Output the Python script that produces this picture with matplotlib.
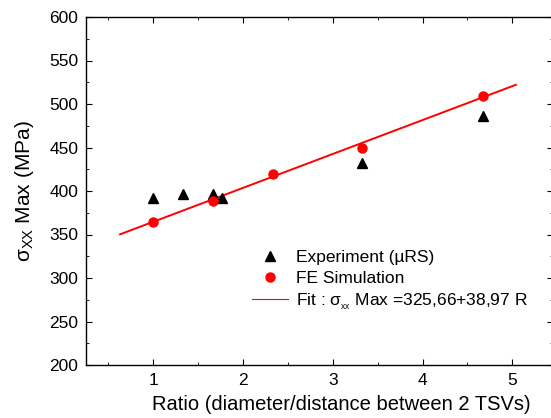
import numpy as np
import matplotlib
matplotlib.use("Agg")
import matplotlib.pyplot as plt
from matplotlib.ticker import MultipleLocator

plt.rcParams['font.family'] = ['Liberation Sans', 'DejaVu Sans']
plt.rcParams['mathtext.fontset'] = 'custom'
plt.rcParams['mathtext.rm'] = 'Liberation Sans'
plt.rcParams['mathtext.it'] = 'Liberation Sans'

# === Data ===
exp_ratio = [1.0, 1.33, 1.67, 1.76, 3.33, 4.67]
exp_stress = [392, 397, 397, 392, 432, 486]

sim_ratio = [1.0, 1.67, 2.33, 3.33, 4.67]
sim_stress = [364, 389, 419, 450, 509]

# Fit : sigma_xx Max = 325.66 + 38.97 R
fit_a = 325.66
fit_b = 38.97
fit_range = [0.63, 5.04]

# === Plot ===
W, H = 551, 418
fig = plt.figure(figsize=(W / 100, H / 100), dpi=100)
ax = fig.add_axes([86 / W, 1 - 365 / H, 467 / W, 348 / H])

fit_x = np.array(fit_range)
ax.plot(fit_x, fit_a + fit_b * fit_x, color='red', lw=1.4,
        label=r"Fit : $\sigma_{_{xx}}$ Max =325,66+38,97 R", zorder=2)
ax.plot(exp_ratio, exp_stress, linestyle='none', marker='^', color='black',
        markersize=7.5, label="Experiment (µRS)", zorder=3)
ax.plot(sim_ratio, sim_stress, linestyle='none', marker='o', color='red',
        markersize=6.5, label="FE Simulation", zorder=3)

ax.set_xlim(0.25, 0.25 + 467 / 89.75)
ax.set_ylim(200, 600)
ax.xaxis.set_major_locator(MultipleLocator(1))
ax.xaxis.set_minor_locator(MultipleLocator(0.5))
ax.yaxis.set_major_locator(MultipleLocator(50))
ax.yaxis.set_minor_locator(MultipleLocator(25))
ax.tick_params(which='both', direction='in', top=True, right=True,
               labelsize=12.5, pad=5.5)
ax.tick_params(which='major', length=4.5)
ax.tick_params(which='minor', length=2.5)
for s in ax.spines.values():
    s.set_linewidth(1.0)

ax.set_xlabel("Ratio (diameter/distance between 2 TSVs)", fontsize=14.5)
ax.xaxis.set_label_coords(0.546, -0.086)
ax.set_ylabel(r"σ$_{\mathrm{XX}}$ Max (MPa)", fontsize=15)
ax.yaxis.set_label_coords(-0.107, 0.5)

handles, labels = ax.get_legend_handles_labels()
order = [1, 2, 0]
leg = ax.legend([handles[i] for i in order], [labels[i] for i in order],
                loc='upper left', bbox_to_anchor=(0.355, 0.331), frameon=False,
                fontsize=12.5, handlelength=2.1, handletextpad=0.45,
                labelspacing=0.32, borderpad=0, borderaxespad=0)
leg.legend_handles[2].set_linewidth(0.8)

fig.savefig("out.png", dpi=100)
